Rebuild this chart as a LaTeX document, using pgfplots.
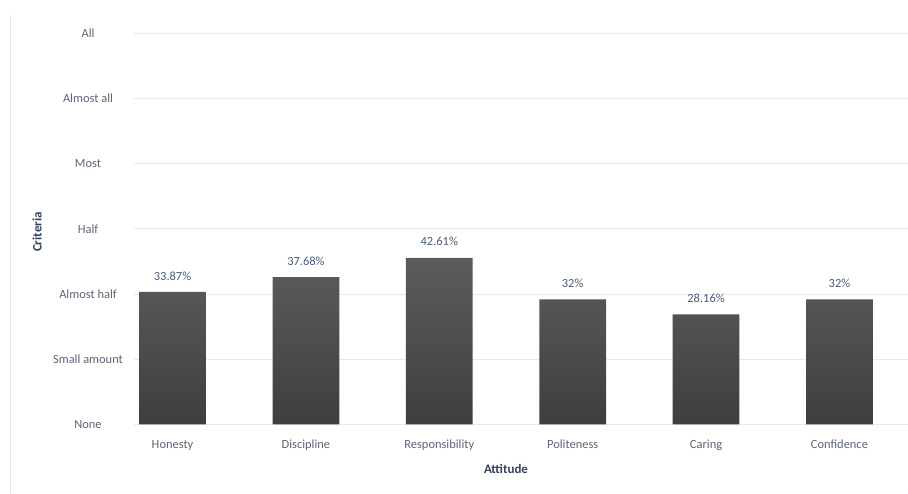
\documentclass[border=0pt]{standalone}
\usepackage{fontspec}
\setmainfont{Carlito}
\usepackage{pgfplots}
\pgfplotsset{compat=1.18}
\definecolor{ticktxt}{HTML}{5B6577}
\definecolor{datatxt}{HTML}{4A5A78}
\definecolor{titletxt}{HTML}{33415C}
\definecolor{gridc}{HTML}{E4EAF1}
\definecolor{bartop}{HTML}{5C5C5C}
\definecolor{barbot}{HTML}{3E3E3E}
\definecolor{borderc}{HTML}{DCE6F0}
\begin{document}
\begin{tikzpicture}[x=1bp,y=1bp]
\path[use as bounding box] (0,0) rectangle (908,494);
\draw[borderc, line width=1bp] (10,0) -- (10,479);
\begin{axis}[
  at={(134bp,69.5bp)}, anchor=south west,
  scale only axis, width=774bp, height=391.2bp,
  xmin=-0.289, xmax=5.514, ymin=0, ymax=100,
  axis line style={draw=none},
  tick style={draw=none},
  ybar, bar width=0.5,
  xtick={0,1,2,3,4,5},
  xticklabels={Honesty,Discipline,Responsibility,Politeness,Caring,Confidence},
  ytick={0,16.6667,33.3333,50,66.6667,83.3333,100},
  yticklabels={None,Small amount,Almost half,Half,Most,Almost all,All},
  ymajorgrids, major grid style={gridc, line width=1bp},
  major tick length=0pt,
  /pgf/number format/assume math mode=true,
  xticklabel style={font=\fontsize{12.5}{14}\selectfont, text=ticktxt, anchor=center, yshift=-21.5bp, text height=1.6ex, text depth=0.4ex},
  yticklabel style={font=\fontsize{12.5}{14}\selectfont, text=ticktxt, anchor=center, xshift=-46bp},
  xlabel={Attitude}, ylabel={Criteria},
  xlabel style={font=\fontsize{13}{15}\selectfont\bfseries, text=titletxt, at={(axis description cs:0.4806,-0.1138)}, anchor=center},
  ylabel style={font=\fontsize{13}{15}\selectfont\bfseries, text=titletxt, at={(axis description cs:-0.1253,0.492)}, rotate=0, anchor=center},
  nodes near coords={\pgfmathprintnumber{\pgfplotspointmeta}\%},
  nodes near coords style={font=\fontsize{12.5}{14}\selectfont, text=datatxt, anchor=center, yshift=16bp},
  clip=false,
]
\addplot[draw=none, top color=bartop, bottom color=barbot] coordinates {
  (0,33.87) (1,37.68) (2,42.61) (3,32) (4,28.16) (5,32)
};
\end{axis}
\end{tikzpicture}
\end{document}
